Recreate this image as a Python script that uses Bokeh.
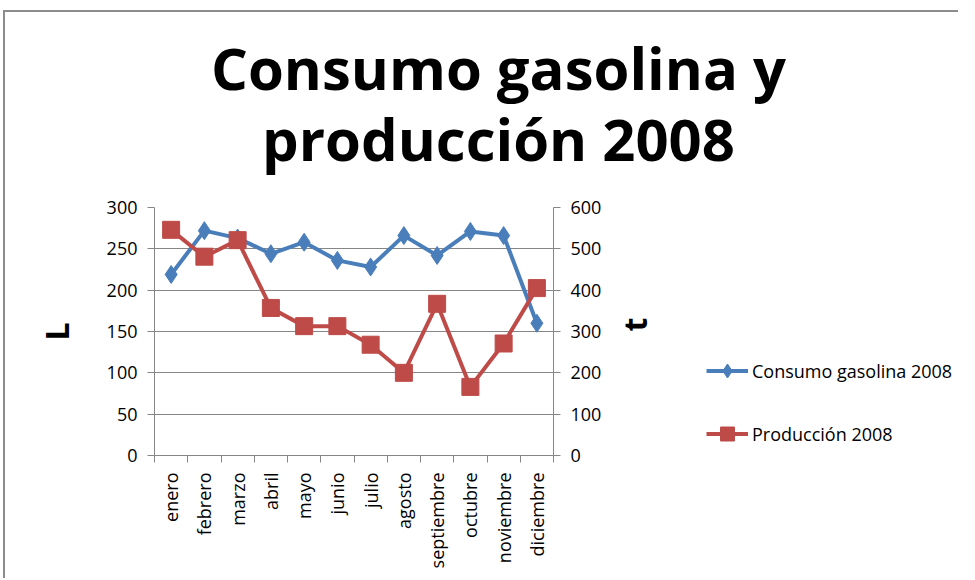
from bokeh.plotting import figure
from bokeh.models import (LinearAxis, Range1d, FixedTicker, Legend, LegendItem, Label)
from bokeh.layouts import column, row
from bokeh.embed import file_html
from bokeh.resources import INLINE
import math

months = ["enero", "febrero", "marzo", "abril", "mayo", "junio", "julio",
          "agosto", "septiembre", "octubre", "noviembre", "diciembre"]
consumo = [219, 272, 263, 244, 258, 236, 228, 266, 242, 271, 266, 160]
produccion = [546, 481, 521, 357, 313, 313, 268, 200, 367, 166, 271, 405]
left_ticks = [0, 50, 100, 150, 200, 250, 300]
right_ticks = [0, 100, 200, 300, 400, 500, 600]
title_lines = ["Consumo gasolina y", "producción 2008"]
series_names = ["Consumo gasolina 2008", "Producción 2008"]

xs = [i + 0.5 for i in range(len(months))]
FONT = "Open Sans"
BLUE = "#4A7EBB"
RED = "#BE4B48"
GRID = "#868686"

OFF_X, OFF_Y = 5, 12          # outer margin + chart-area border
TOP_H, BODY_H = 190 - OFF_Y, 388
MAIN_W, LEG_W = 680 - OFF_X, 278

# ---- title strip ----
p0 = figure(width=MAIN_W + LEG_W, height=TOP_H, output_backend="svg", toolbar_location=None,
            x_range=Range1d(0, MAIN_W + LEG_W), y_range=Range1d(0, TOP_H),
            min_border=0, x_axis_location=None, y_axis_location=None)
p0.outline_line_color = None
p0.grid.visible = False
for txt, yb in zip(title_lines, [123, 52]):
    p0.add_layout(Label(x=498 - OFF_X, y=yb, text=txt, text_align="center",
                        text_baseline="alphabetic", text_font=FONT,
                        text_font_size="58px", text_font_style="bold",
                        text_color="black"))

# ---- main chart ----
p = figure(width=MAIN_W, height=BODY_H, output_backend="svg", toolbar_location=None,
           x_range=Range1d(0, len(months)), y_range=Range1d(0, 300),
           min_border_left=154 - OFF_X, min_border_right=127, min_border_top=17,
           min_border_bottom=123, y_axis_location=None, x_axis_location=None)
p.outline_line_color = None
p.extra_y_ranges = {"t": Range1d(0, 600)}

ax_l = LinearAxis(ticker=FixedTicker(ticks=left_ticks), axis_label="L")
ax_r = LinearAxis(y_range_name="t", ticker=FixedTicker(ticks=right_ticks), axis_label="t")
for ax in (ax_l, ax_r):
    ax.axis_line_color = GRID
    ax.major_tick_line_color = GRID
    ax.major_tick_out = 7
    ax.major_tick_in = 0
    ax.minor_tick_line_color = None
    ax.major_label_text_font = FONT
    ax.major_label_text_font_size = "18px"
    ax.major_label_text_color = "black"
    ax.major_label_standoff = 10
    ax.axis_label_text_font = FONT
    ax.axis_label_text_font_size = "32px"
    ax.axis_label_text_font_style = "bold"
    ax.axis_label_text_color = "black"
ax_l.axis_label_standoff = 26
ax_r.axis_label_standoff = 30
ax_r.axis_label_orientation = math.pi / 2
p.add_layout(ax_l, "left")
p.add_layout(ax_r, "right")

ax_b = LinearAxis(ticker=FixedTicker(ticks=xs, minor_ticks=list(range(len(months) + 1))))
ax_b.major_label_overrides = {x: m for x, m in zip(xs, months)}
ax_b.major_label_orientation = math.pi / 2
ax_b.axis_line_color = GRID
ax_b.major_tick_line_color = None
ax_b.minor_tick_line_color = GRID
ax_b.minor_tick_out = 7
ax_b.minor_tick_in = 0
ax_b.major_label_text_font = FONT
ax_b.major_label_text_font_size = "18px"
ax_b.major_label_text_color = "black"
ax_b.major_label_standoff = 10
p.add_layout(ax_b, "below")

p.xgrid.visible = False
p.ygrid.ticker = FixedTicker(ticks=left_ticks)
p.ygrid.grid_line_color = GRID

def draw_series(fig):
    a = fig.line(xs, consumo, line_color=BLUE, line_width=4)
    b = fig.scatter(xs, consumo, marker="diamond", size=18, fill_color=BLUE, line_color=BLUE)
    c = fig.line(xs, produccion, y_range_name="t", line_color=RED, line_width=4)
    d = fig.scatter(xs, produccion, y_range_name="t", marker="square", size=17,
                    fill_color=RED, line_color=RED)
    return a, b, c, d

draw_series(p)

# ---- legend panel (same series, kept out of view; only the legend shows) ----
p2 = figure(width=LEG_W, height=BODY_H, output_backend="svg", toolbar_location=None,
            x_range=Range1d(1000, 1001), y_range=Range1d(1000, 1001), min_border=0,
            x_axis_location=None, y_axis_location=None)
p2.extra_y_ranges = {"t": Range1d(1000, 1001)}
p2.outline_line_color = None
p2.grid.visible = False
dl1, dm1, dl2, dm2 = draw_series(p2)
legend = Legend(items=[LegendItem(label=series_names[0], renderers=[dl1, dm1]),
                       LegendItem(label=series_names[1], renderers=[dl2, dm2])],
                location=(26, 4), glyph_width=42, glyph_height=35, spacing=28,
                label_standoff=4, padding=0, margin=0, border_line_color=None,
                background_fill_alpha=0, label_text_font=FONT,
                label_text_font_size="18px", label_text_color="black")
p2.add_layout(legend, "center")

layout = column(p0, row(p, p2), margin=(10, 0, 0, 3),
                styles={"border-left": "2px solid #8c8c8c",
                        "border-top": "2px solid #8c8c8c"})
open("out.html", "w").write(file_html(layout, INLINE))
